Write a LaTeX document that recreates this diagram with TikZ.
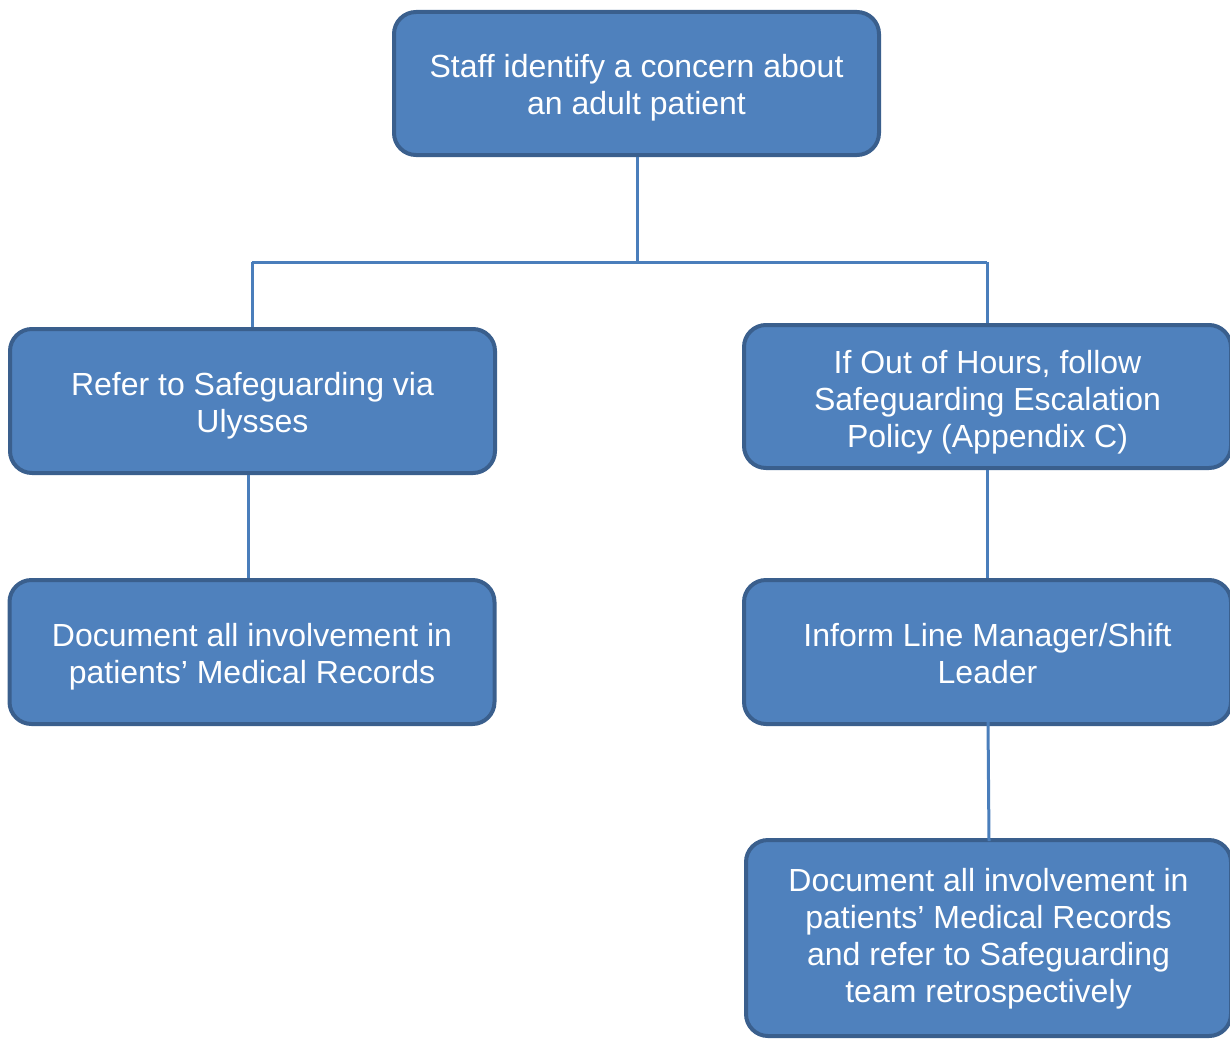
\documentclass[tikz,border=0pt]{standalone}
\usepackage{fontspec}
\setmainfont{Liberation Sans}
\definecolor{boxfill}{HTML}{4F81BD}
\definecolor{boxline}{HTML}{3A5F8D}
\definecolor{conn}{HTML}{4A7EBB}
\newcommand\btext[2][5pt]{\raisebox{-#1}[\height][\depth]{\begin{tabular}{@{}c@{}}#2\end{tabular}}}
\begin{document}
\begin{tikzpicture}[x=1pt,y=-1pt,
  flowbox/.style={draw=boxline, line width=4pt, fill=boxfill, rounded corners=22pt,
    text=white, font=\fontsize{32}{37}\selectfont, inner sep=0pt,
    minimum width=485pt},
  link/.style={draw=conn, line width=3pt}]
\useasboundingbox (0,0) rectangle (1230,1041);
\clip (0,0) rectangle (1230,1041);
\node[flowbox, minimum height=143pt] (top) at (636.5,83.5) {\btext[5pt]{Staff identify a concern about\\an adult patient}};
\node[flowbox, minimum height=144pt] (l1) at (252.5,401) {\btext[6pt]{Refer to Safeguarding via\\Ulysses}};
\node[flowbox, minimum height=144pt] (l2) at (252,652) {\btext[6pt]{Document all involvement in\\patients’ Medical Records}};
\node[flowbox, minimum height=143pt, minimum width=487pt] (r1) at (987.5,396.5) {\btext[7pt]{If Out of Hours, follow\\Safeguarding Escalation\\Policy (Appendix C)}};
\node[flowbox, minimum height=144pt, minimum width=487pt] (r2) at (987.5,652) {\btext[6pt]{Inform Line Manager/Shift\\Leader}};
\node[flowbox, minimum height=196pt, minimum width=485pt] (r3) at (988.5,938) {\btext[2pt]{Document all involvement in\\patients’ Medical Records\\and refer to Safeguarding\\team retrospectively}};
\coordinate (jc) at (637,262);
\coordinate (jl) at (252,262);
\coordinate (jr) at (987,262);
\draw[link] (top.south -| jc) -- (jc);
\draw[link] (jl) -- (jr);
\draw[link] (jl) -- (l1.north -| jl);
\draw[link] (jr) -- (r1.north -| jr);
\draw[link] ([xshift=-4.5pt]l1.south) -- ([xshift=-4pt]l2.north);
\draw[link] (r1.south -| jr) -- (r2.north -| jr);
\draw[link] ([xshift=0.5pt,yshift=4pt]r2.south) -- ([xshift=0.5pt,yshift=-3pt]r3.north);
\end{tikzpicture}
\end{document}
